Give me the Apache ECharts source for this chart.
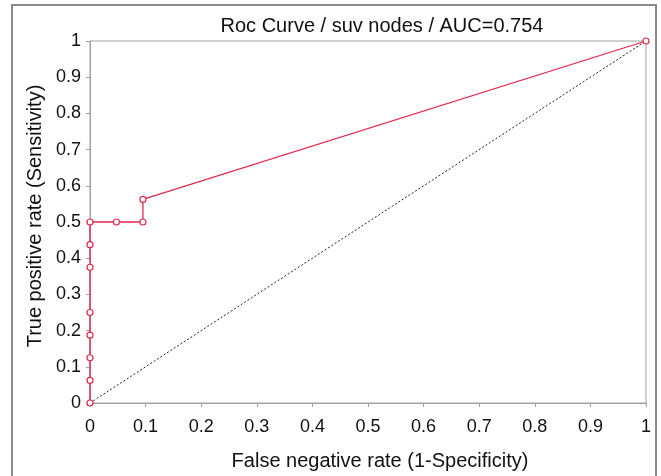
<!DOCTYPE html>
<html><head><meta charset="utf-8">
<script src="https://cdn.jsdelivr.net/npm/echarts@6/dist/echarts.min.js"></script>
<style>html,body{margin:0;padding:0;background:#fff}#c{width:661px;height:476px}</style>
</head><body><div id="c"></div>
<script>
// ROC points: x = false negative rate (1-Specificity), y = true positive rate
const rocX = [0, 0, 0, 0, 0, 0, 0, 0, 0.0476, 0.0952, 0.0952, 1];
const rocY = [0, 0.0625, 0.125, 0.1875, 0.25, 0.375, 0.4375, 0.5, 0.5, 0.5, 0.5625, 1];
const diagX = [0, 1];
const diagY = [0, 1];
const axisTicks = [0, 0.1, 0.2, 0.3, 0.4, 0.5, 0.6, 0.7, 0.8, 0.9, 1];
const titleText = 'Roc Curve / suv nodes / AUC=0.754';
const xName = 'False negative rate (1-Specificity)';
const yName = 'True positive rate (Sensitivity)';

const font = '"Liberation Sans", Arial, sans-serif';
const chart = echarts.init(document.getElementById('c'));
const axisCommon = {
  min: axisTicks[0], max: axisTicks[axisTicks.length - 1], interval: 0.1,
  axisLine: {show: true, lineStyle: {color: '#a0a0a0', width: 1}},
  axisTick: {show: true, length: 4, lineStyle: {color: '#a0a0a0'}},
  splitLine: {show: false},
  axisLabel: {color: '#111', fontSize: 18, fontFamily: font,
    formatter: v => String(+v.toFixed(1))},
  nameLocation: 'middle',
  nameTextStyle: {color: '#111', fontSize: 20, fontFamily: font}
};
chart.setOption({
  animation: false,
  backgroundColor: '#fff',
  title: {text: titleText, left: 377, top: 11, textAlign: 'center',
    textStyle: {color: '#111', fontSize: 20, fontWeight: 'normal', fontFamily: font}},
  grid: {left: 90, right: 15, top: 41, bottom: 73, show: true, borderColor: '#a0a0a0', borderWidth: 1},
  graphic: [{type: 'rect', shape: {x: 12, y: 5, width: 644, height: 480}, silent: true,
    style: {fill: 'none', stroke: '#8a8a8a', lineWidth: 2}}],
  xAxis: Object.assign({}, axisCommon, {type: 'value', name: xName, nameGap: 48,
    nameTextStyle: Object.assign({}, axisCommon.nameTextStyle, {padding: [0, 0, 0, 24]}),
    axisLabel: Object.assign({}, axisCommon.axisLabel, {margin: 15})}),
  yAxis: Object.assign({}, axisCommon, {type: 'value', name: yName, nameGap: 45,
    nameTextStyle: Object.assign({}, axisCommon.nameTextStyle, {padding: [0, 0, 0, 12]}),
    axisLabel: Object.assign({}, axisCommon.axisLabel, {margin: 9})}),
  series: [
    {type: 'line', data: diagX.map((x, i) => [x, diagY[i]]), symbol: 'none',
      lineStyle: {color: '#222', width: 1, type: [2, 2]}, z: 1},
    {type: 'line', data: rocX.map((x, i) => [x, rocY[i]]), symbol: 'circle', symbolSize: 6,
      itemStyle: {color: '#fff', borderColor: '#e0284f', borderWidth: 1.2},
      lineStyle: {color: '#e0284f', width: 1.3}, z: 2}
  ]
});
</script></body></html>
